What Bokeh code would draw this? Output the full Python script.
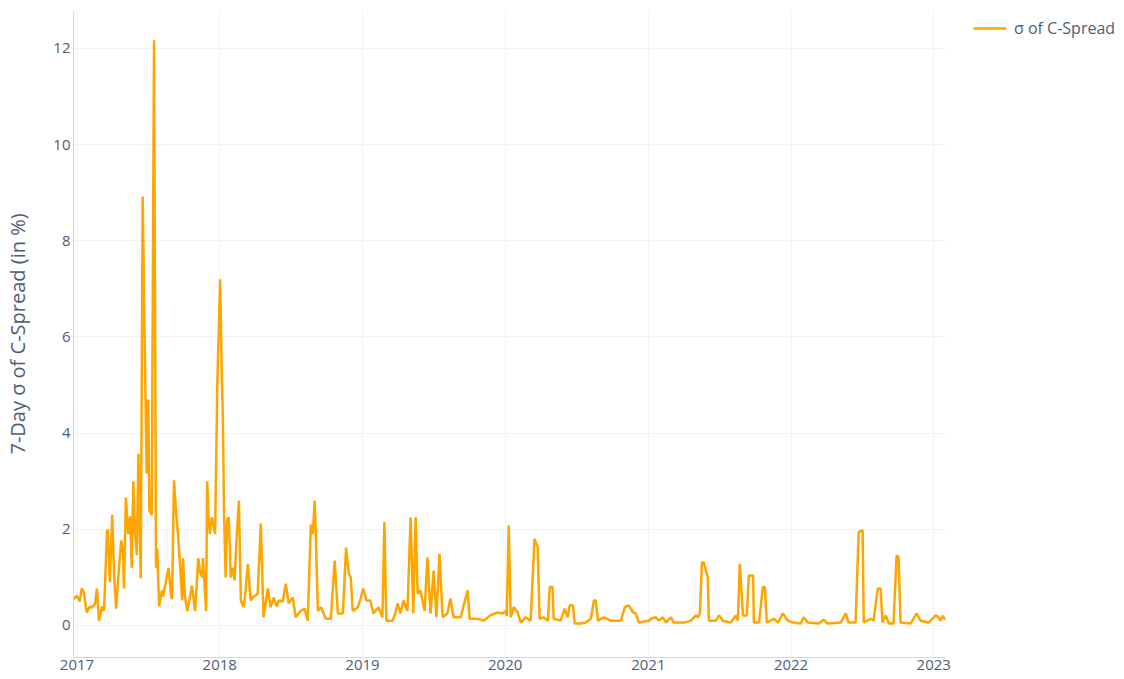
from datetime import datetime
import pandas as pd
from bokeh.plotting import figure
from bokeh.layouts import row
from bokeh.models import (ColumnDataSource, Range1d, FixedTicker, DatetimeTickFormatter,
                          Legend, LegendItem)
from bokeh.embed import file_html
from bokeh.resources import INLINE

# ---- data (7-day sigma of C-Spread, %) ----
dates = [
    "2016-12-23", "2017-01-01", "2017-01-08", "2017-01-13", "2017-01-18", "2017-01-26",
    "2017-02-03", "2017-02-08", "2017-02-16", "2017-02-21", "2017-02-26", "2017-03-06",
    "2017-03-11", "2017-03-19", "2017-03-21", "2017-03-26", "2017-04-01", "2017-04-06",
    "2017-04-11", "2017-04-16", "2017-04-24", "2017-04-29", "2017-05-01", "2017-05-06",
    "2017-05-12", "2017-05-17", "2017-05-21", "2017-05-25", "2017-05-29", "2017-06-03",
    "2017-06-07", "2017-06-13", "2017-06-18", "2017-06-24", "2017-06-28", "2017-07-02",
    "2017-07-05", "2017-07-11", "2017-07-17", "2017-07-22", "2017-07-25", "2017-07-30",
    "2017-08-06", "2017-08-09", "2017-08-14", "2017-08-23", "2017-08-30", "2017-09-01",
    "2017-09-06", "2017-09-11", "2017-09-16", "2017-09-22", "2017-09-27", "2017-09-29",
    "2017-10-04", "2017-10-10", "2017-10-17", "2017-10-22", "2017-10-30", "2017-11-07",
    "2017-11-12", "2017-11-17", "2017-11-19", "2017-11-27", "2017-11-30", "2017-12-03",
    "2017-12-07", "2017-12-12", "2017-12-20", "2017-12-26", "2018-01-02", "2018-01-06",
    "2018-01-09", "2018-01-12", "2018-01-16", "2018-01-20", "2018-01-24", "2018-01-29",
    "2018-02-03", "2018-02-08", "2018-02-13", "2018-02-19", "2018-02-24", "2018-03-03",
    "2018-03-08", "2018-03-14", "2018-03-21", "2018-03-29", "2018-04-08", "2018-04-16",
    "2018-04-23", "2018-05-04", "2018-05-11", "2018-05-19", "2018-05-27", "2018-06-01",
    "2018-06-11", "2018-06-19", "2018-06-26", "2018-07-07", "2018-07-14", "2018-07-27",
    "2018-08-06", "2018-08-14", "2018-08-22", "2018-08-27", "2018-09-01", "2018-09-09",
    "2018-09-17", "2018-09-29", "2018-10-12", "2018-10-22", "2018-10-30", "2018-11-12",
    "2018-11-20", "2018-11-27", "2018-12-02", "2018-12-07", "2018-12-20", "2018-12-27",
    "2019-01-03", "2019-01-11", "2019-01-21", "2019-01-29", "2019-02-11", "2019-02-21",
    "2019-02-26", "2019-03-03", "2019-03-19", "2019-03-26", "2019-04-01", "2019-04-08",
    "2019-04-16", "2019-04-26", "2019-05-04", "2019-05-11", "2019-05-17", "2019-05-22",
    "2019-05-29", "2019-06-09", "2019-06-16", "2019-06-24", "2019-07-02", "2019-07-09",
    "2019-07-17", "2019-07-25", "2019-08-06", "2019-08-14", "2019-08-22", "2019-09-09",
    "2019-09-27", "2019-10-02", "2019-10-22", "2019-11-07", "2019-11-24", "2019-12-12",
    "2019-12-25", "2020-01-02", "2020-01-05", "2020-01-10", "2020-01-15", "2020-01-23",
    "2020-02-02", "2020-02-10", "2020-02-22", "2020-03-06", "2020-03-16", "2020-03-24",
    "2020-03-29", "2020-04-08", "2020-04-19", "2020-04-24", "2020-05-01", "2020-05-04",
    "2020-05-22", "2020-06-01", "2020-06-09", "2020-06-14", "2020-06-22", "2020-06-27",
    "2020-07-12", "2020-07-25", "2020-08-07", "2020-08-15", "2020-08-20", "2020-08-25",
    "2020-09-09", "2020-09-27", "2020-10-23", "2020-11-02", "2020-11-12", "2020-11-23",
    "2020-11-30", "2020-12-08", "2020-12-18", "2021-01-03", "2021-01-08", "2021-01-20",
    "2021-01-28", "2021-02-07", "2021-02-15", "2021-02-28", "2021-03-07", "2021-04-02",
    "2021-04-20", "2021-05-03", "2021-05-08", "2021-05-13", "2021-05-18", "2021-05-23",
    "2021-06-02", "2021-06-05", "2021-06-23", "2021-07-01", "2021-07-11", "2021-07-31",
    "2021-08-13", "2021-08-18", "2021-08-23", "2021-08-31", "2021-09-10", "2021-09-15",
    "2021-09-26", "2021-09-28", "2021-10-11", "2021-10-21", "2021-10-26", "2021-10-31",
    "2021-11-18", "2021-11-29", "2021-12-11", "2021-12-24", "2022-01-06", "2022-01-26",
    "2022-02-02", "2022-02-13", "2022-03-13", "2022-03-25", "2022-04-05", "2022-05-08",
    "2022-05-21", "2022-05-28", "2022-06-15", "2022-06-23", "2022-07-03", "2022-07-06",
    "2022-07-24", "2022-07-31", "2022-08-11", "2022-08-18", "2022-08-23", "2022-08-31",
    "2022-09-08", "2022-09-20", "2022-09-28", "2022-10-03", "2022-10-08", "2022-11-03",
    "2022-11-18", "2022-11-28", "2022-12-19", "2023-01-06", "2023-01-13", "2023-01-18",
    "2023-01-23", "2023-01-31",
]
sigma = [
    0.55, 0.62, 0.50, 0.77, 0.70, 0.27,
    0.40, 0.37, 0.45, 0.77, 0.10, 0.40,
    0.30, 1.98, 1.98, 0.90, 2.30, 1.00,
    0.35, 0.95, 1.77, 1.50, 0.77, 2.66,
    1.90, 2.27, 1.20, 3.00, 2.00, 1.46,
    3.57, 0.98, 8.92, 5.35, 3.16, 4.70,
    2.40, 2.30, 12.17, 1.20, 1.60, 0.40,
    0.73, 0.60, 0.81, 1.20, 0.60, 0.55,
    3.02, 2.40, 1.90, 1.20, 0.52, 1.40,
    0.60, 0.30, 0.60, 0.83, 0.30, 1.40,
    1.10, 1.00, 1.40, 0.30, 3.00, 2.30,
    1.90, 2.25, 1.90, 5.10, 7.20, 5.30,
    4.30, 2.30, 1.00, 2.20, 2.25, 1.00,
    1.20, 0.94, 1.80, 2.60, 0.52, 0.38,
    0.70, 1.28, 0.52, 0.60, 0.66, 2.12,
    0.17, 0.77, 0.38, 0.58, 0.40, 0.52,
    0.50, 0.87, 0.46, 0.58, 0.17, 0.30,
    0.35, 0.10, 2.10, 1.90, 2.60, 0.30,
    0.38, 0.14, 0.14, 1.35, 0.25, 0.25,
    1.62, 1.08, 1.00, 0.30, 0.38, 0.55,
    0.77, 0.52, 0.52, 0.25, 0.38, 0.17,
    2.15, 0.10, 0.10, 0.25, 0.46, 0.25,
    0.52, 0.30, 2.25, 0.25, 2.25, 0.66,
    0.73, 0.30, 1.42, 0.25, 1.14, 0.17,
    1.49, 0.17, 0.25, 0.56, 0.17, 0.17,
    0.73, 0.14, 0.14, 0.10, 0.21, 0.27,
    0.25, 0.30, 0.20, 2.08, 0.17, 0.38,
    0.27, 0.06, 0.17, 0.10, 1.80, 1.63,
    0.14, 0.17, 0.10, 0.80, 0.80, 0.14,
    0.10, 0.35, 0.17, 0.42, 0.42, 0.04,
    0.04, 0.06, 0.14, 0.52, 0.52, 0.10,
    0.17, 0.10, 0.10, 0.38, 0.42, 0.27,
    0.25, 0.06, 0.08, 0.10, 0.14, 0.17,
    0.10, 0.17, 0.06, 0.17, 0.06, 0.06,
    0.10, 0.21, 0.17, 0.25, 1.31, 1.31,
    1.00, 0.10, 0.10, 0.21, 0.10, 0.06,
    0.21, 0.10, 1.28, 0.21, 0.21, 1.04,
    1.04, 0.06, 0.06, 0.80, 0.80, 0.06,
    0.14, 0.06, 0.25, 0.10, 0.06, 0.04,
    0.17, 0.06, 0.04, 0.12, 0.04, 0.06,
    0.25, 0.06, 0.06, 1.94, 1.98, 0.06,
    0.14, 0.10, 0.77, 0.77, 0.06, 0.21,
    0.04, 0.04, 1.46, 1.42, 0.06, 0.04,
    0.25, 0.10, 0.06, 0.21, 0.17, 0.10,
    0.20, 0.12,
]
year_ticks = ["2017", "2018", "2019", "2020", "2021", "2022", "2023"]
y_ticks = [0, 2, 4, 6, 8, 10, 12]
series_name = "σ of C-Spread"

x = pd.to_datetime(dates)
src = ColumnDataSource(dict(x=x, y=sigma))

TEXT = "#4f5d78"
FONT = "Open Sans"
LINE = "#FFA500"

# ---------------- main chart ----------------
p = figure(width=960, height=679, x_axis_type="datetime",
           output_backend="svg", toolbar_location=None,
           x_range=Range1d(x.min(), x.max()),
           y_range=Range1d(-0.666, 12.79),
           min_border_left=73, min_border_right=15, min_border_top=10,
           min_border_bottom=22)
p.outline_line_color = None
p.background_fill_color = "white"
p.border_fill_color = "white"

p.line("x", "y", source=src, line_color=LINE, line_width=2.5)

tick_ms = [pd.Timestamp(f"{y}-01-01").value / 1e6 for y in year_ticks]
p.xaxis.ticker = FixedTicker(ticks=tick_ms)
p.xaxis.formatter = DatetimeTickFormatter(years="%Y", months="%Y", days="%Y",
                                          hours="%Y", minutes="%Y", seconds="%Y",
                                          milliseconds="%Y", microseconds="%Y")
p.yaxis.ticker = FixedTicker(ticks=y_ticks)
p.yaxis.axis_label = "7-Day σ of C-Spread (in %)"

for ax in (p.xaxis, p.yaxis):
    ax.axis_line_color = "#d4d8de"
    ax.axis_line_width = 1
    ax.major_tick_line_color = None
    ax.minor_tick_line_color = None
    ax.major_tick_out = 0
    ax.major_tick_in = 0
    ax.minor_tick_out = 0
    ax.minor_tick_in = 0
    ax.major_label_text_font = FONT
    ax.major_label_text_font_size = "15px"
    ax.major_label_text_color = TEXT
    ax.axis_label_text_font = FONT
    ax.axis_label_text_font_style = "normal"
    ax.axis_label_text_color = TEXT
p.xaxis.major_label_standoff = 2
p.yaxis.major_label_standoff = 3
p.yaxis.axis_label_text_font_size = "20px"
p.yaxis.axis_label_standoff = 19

p.xgrid.grid_line_color = "#f1f3f6"
p.ygrid.grid_line_color = "#f1f3f6"
p.xgrid.ticker = p.xaxis.ticker
p.ygrid.ticker = p.yaxis.ticker

# ---------------- legend panel (to the right of the chart) ----------------
# its own ranges keep the series out of view; only the legend entry shows
lg = figure(width=164, height=100, output_backend="svg", toolbar_location=None,
            x_range=Range1d(0, 1), y_range=Range1d(0, 1),
            x_axis_location=None, y_axis_location=None,
            min_border_left=6, min_border_top=10,
            min_border_right=0, min_border_bottom=22)
lg.outline_line_color = None
lg.grid.visible = False
lr = lg.line("x", "y", source=src, line_color=LINE, line_width=2.5)

# a white (invisible) border so that the padding is applied
legend = Legend(items=[LegendItem(label=series_name, renderers=[lr])],
                location="top_left", margin=0, padding=6,
                glyph_width=33, label_standoff=8,
                label_text_font=FONT, label_text_font_size="16px",
                label_text_color=TEXT, border_line_color="white",
                border_line_alpha=1.0, border_line_width=1,
                background_fill_color="white", background_fill_alpha=1.0)
lg.add_layout(legend)

layout = row(p, lg)
open("out.html", "w").write(file_html(layout, INLINE))
